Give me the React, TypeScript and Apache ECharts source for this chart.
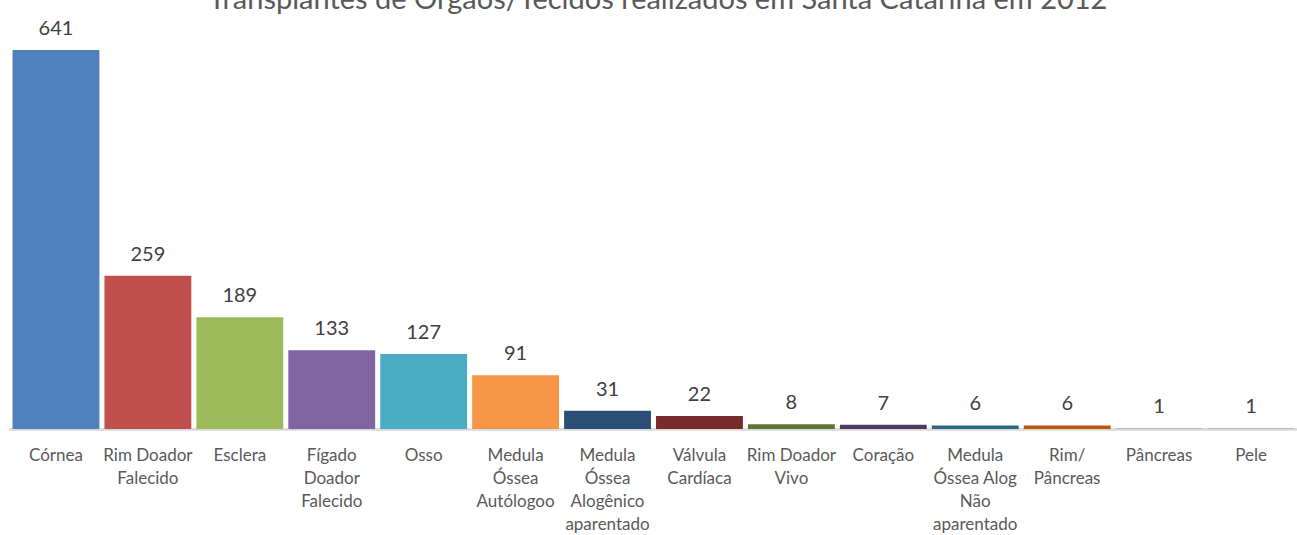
import React, { useEffect, useRef } from "react";
import * as echarts from "echarts";

const titleText = "Transplantes de Órgãos/Tecidos realizados em Santa Catarina em 2012";
const categories = [
  "Córnea",
  "Rim Doador\nFalecido",
  "Esclera",
  "Fígado\nDoador\nFalecido",
  "Osso",
  "Medula\nÓssea\nAutólogoo",
  "Medula\nÓssea\nAlogênico\naparentado",
  "Válvula\nCardíaca",
  "Rim Doador\nVivo",
  "Coração",
  "Medula\nÓssea Alog\nNão\naparentado",
  "Rim/\nPâncreas",
  "Pâncreas",
  "Pele",
];
const values = [641, 259, 189, 133, 127, 91, 31, 22, 8, 7, 6, 6, 1, 1];
const colors = [
  "#4f81bd", "#c0504d", "#9bbb59", "#8064a2", "#4bacc6", "#f79646",
  "#2c4d75", "#772c2a", "#5f7530", "#4d3b62", "#276a7c", "#b65708",
  "#729aca", "#cf7b79",
];

export default function App() {
  const ref = useRef<HTMLDivElement>(null);
  useEffect(() => {
    if (!ref.current) return;
    const chart = echarts.init(ref.current, null, { renderer: "svg" });
    const font = "Lato, 'Open Sans', sans-serif";
    chart.setOption({
      animation: false,
      backgroundColor: "#ffffff",
      graphic: [
        {
          type: "text",
          x: 658,
          y: 12,
          style: {
            text: titleText,
            fontFamily: font,
            fontSize: 29,
            fill: "#595959",
            textAlign: "center",
            textVerticalAlign: "bottom",
          },
        },
      ],
      grid: { left: 10, right: 0, top: 15, bottom: 102, containLabel: false },
      xAxis: {
        type: "category",
        data: categories,
        axisLine: { lineStyle: { color: "#d9d9d9", width: 2.5 } },
        axisTick: { show: false },
        axisLabel: {
          interval: 0,
          color: "#595959",
          fontFamily: font,
          fontSize: 17,
          lineHeight: 23,
          margin: 14,
        },
      },
      yAxis: {
        type: "value",
        min: 0,
        max: 700,
        show: false,
        splitLine: { show: false },
      },
      series: [
        {
          type: "bar",
          data: values.map((v, i) => ({ value: v, itemStyle: { color: colors[i] } })),
          barCategoryGap: "5.5%",
          label: {
            show: true,
            position: "top",
            distance: 13,
            color: "#404040",
            fontFamily: font,
            fontSize: 20,
          },
        },
      ],
    });
    return () => chart.dispose();
  }, []);
  return (
    <div
      ref={ref}
      style={{ position: "absolute", left: 0, top: 0, width: 1297, height: 535 }}
    />
  );
}
